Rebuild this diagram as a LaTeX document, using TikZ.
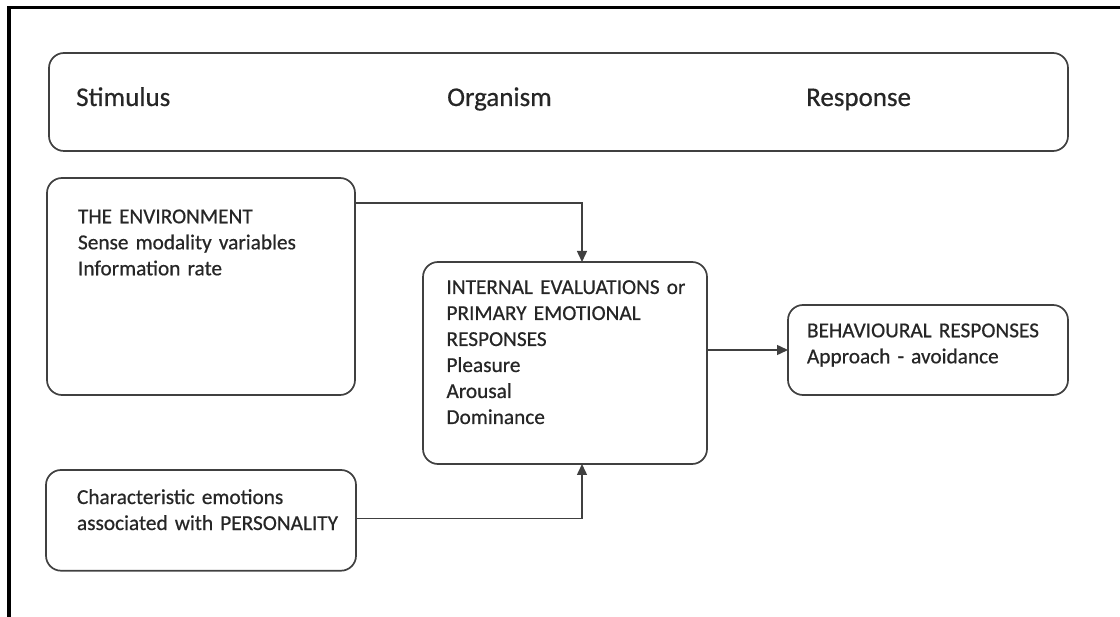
\documentclass[tikz,border=0pt]{standalone}
\usepackage{fontspec}
\setmainfont{Carlito}[FakeBold=0.6]
\usepackage{tikz}
\usetikzlibrary{arrows.meta}

\begin{document}
\begin{tikzpicture}[x=1pt,y=-1pt,
  box/.style={draw=black!75,line width=1.7pt,rounded corners=15pt,outer sep=0pt,
    anchor=north west,align=left,text=black!85,text height=13.3pt,
    font=\fontsize{21.3}{26}\selectfont},
  head/.style={anchor=base west,inner sep=0pt,text=black!85,font=\fontsize{27}{32}\selectfont},
  arr/.style={draw=black!75,line width=1.5pt,-{Triangle[length=11pt,width=10pt]}}]
\useasboundingbox (0,0) rectangle (1120,617);
% frame
\draw[line width=3.5pt] (9,617) -- (9,7.5) -- (1120,7.5);
% S-O-R header
\node[box,minimum width=1019pt,minimum height=98pt,inner sep=0pt,text height=] (header) at (49,53) {};
\node[head] (stim) at (76,106) {Stimulus};
\node[head] (org) at (447,106) {Organism};
\node[head] (resp) at (806,106) {Response};
% boxes
\node[box,inner xsep=31pt,inner ysep=32pt,text width=246pt,text depth=139.7pt] (env) at (47,178)
  {THE ENVIRONMENT\\Sense modality variables\\Information rate};
\node[box,inner xsep=23.5pt,inner ysep=18.7pt,text width=237pt,text depth=151.3pt] (int) at (423,262)
  {\mbox{INTERNAL EVALUATIONS or}\\PRIMARY EMOTIONAL\\RESPONSES\\Pleasure\\Arousal\\Dominance};
\node[box,inner xsep=19pt,inner ysep=19pt,text width=242pt,text depth=38.7pt] (behav) at (788,305)
  {BEHAVIOURAL RESPONSES\\Approach - avoidance};
\node[box,inner xsep=31pt,inner ysep=20.7pt,text width=248pt,text depth=46pt] (pers) at (46,470)
  {Characteristic emotions\\\mbox{associated with PERSONALITY}};
% connectors
\draw[arr] ([yshift=-25pt]env.north east) -| ([xshift=17pt]int.north);
\draw[arr] ([yshift=2pt]pers.east) -| ([xshift=17pt]int.south);
\draw[arr] (int.east |- behav.west) -- (behav.west);
\end{tikzpicture}
\end{document}
